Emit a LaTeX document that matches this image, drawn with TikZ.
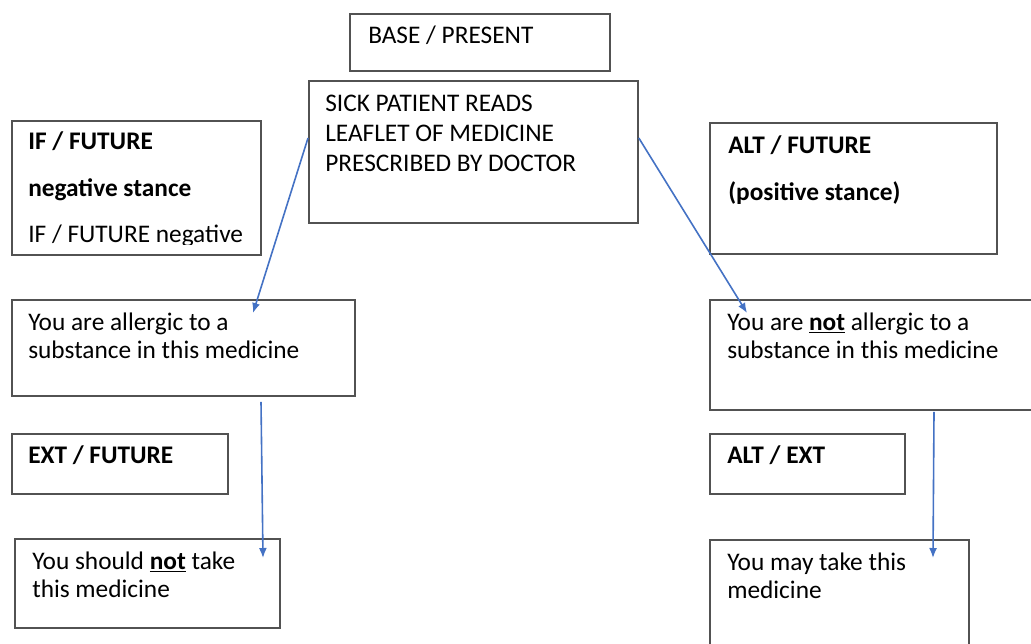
\documentclass[tikz,border=0pt]{standalone}
\usepackage{fontspec}
\setmainfont{Carlito}
\usetikzlibrary{calc}
\usetikzlibrary{arrows.meta}

\begin{document}
\begin{tikzpicture}[x=0.75pt,y=-0.75pt]
  \fontsize{19}{22.5}\selectfont
  \definecolor{lineblue}{HTML}{4472C4}
  \tikzset{
    box/.style={draw=black!68, line width=1.35pt, anchor=north west, inner sep=0pt},
    txt/.style={anchor=base west, align=left, inner sep=0pt},
    tight/.style={font=\fontsize{19}{21}\selectfont},
    arr/.style={draw=lineblue, line width=1.2pt, -{Latex[length=7.5pt,width=6pt]}}
  }
  \newcommand\drawbox[5]{\node[box, minimum width=#4*0.75pt, minimum height=#5*0.75pt] (#1) at (#2,#3) {};}
  \useasboundingbox (0,0) rectangle (1031,643);
  \clip (0,0) rectangle (1031,643);

% base part (multi-line texts sit on their last baseline)
  \drawbox{base}{349}{13}{260}{57}
  \node[txt] (basetext) at ([shift={(19,30)}]base.north west) {BASE / PRESENT};
  \drawbox{sick}{308}{80}{329}{142}
  \node[txt] (sicktext) at ([shift={(17,91)}]sick.north west) {SICK PATIENT READS\\LEAFLET OF MEDICINE\\PRESCRIBED BY DOCTOR};

% if / future part
  \drawbox{ifbox}{11}{120}{249}{134}
  \node[txt] (iftitle) at ([shift={(17,29)}]ifbox.north west) {\textbf{IF / FUTURE}};
  \node[txt] (ifstance) at ([shift={(17,76)}]ifbox.north west) {\textbf{negative stance}};
  \begin{scope}
    \clip (11,120) rectangle (260,244);
    \node[txt] (ifnote) at ([shift={(17,122)}]ifbox.north west) {IF / FUTURE negative};
  \end{scope}
  \drawbox{allergic}{11}{299}{343}{96}
  \node[txt, tight] (allergictext) at ([shift={(17,59)}]allergic.north west) {You are allergic to a\\substance in this medicine};
  \drawbox{extbox}{11}{433}{216}{60}
  \node[txt] (exttext) at ([shift={(17,30)}]extbox.north west) {\textbf{EXT / FUTURE}};
  \drawbox{shouldnot}{14}{538}{265}{89}
  \node[txt, tight] (shouldnottext) at ([shift={(18,59)}]shouldnot.north west) {You should \underline{\textbf{not}} take\\this medicine};

% alt / future part
  \drawbox{altbox}{709}{122}{287}{131}
  \node[txt] (alttitle) at ([shift={(19,31)}]altbox.north west) {\textbf{ALT / FUTURE}};
  \node[txt] (altstance) at ([shift={(19,78)}]altbox.north west) {\textbf{(positive stance)}};
  \drawbox{notallergic}{709}{299}{340}{110}
  \node[txt, tight] (notallergictext) at ([shift={(18,59)}]notallergic.north west) {You are \underline{\textbf{not}} allergic to a\\substance in this medicine};
  \drawbox{altext}{709}{433}{195}{60}
  \node[txt] (altexttext) at ([shift={(18,30)}]altext.north west) {\textbf{ALT / EXT}};
  \drawbox{may}{709}{539}{259}{120}
  \node[txt, tight] (maytext) at ([shift={(18,59)}]may.north west) {You may take this\\medicine};

% arrows
  \coordinate (tipleft) at ([shift={(242,14)}]allergic.north west);
  \coordinate (tipright) at ([shift={(38,14)}]notallergic.north west);
  \coordinate (tipshould) at ([shift={(249,20)}]shouldnot.north west);
  \coordinate (tipmay) at ([shift={(224,19)}]may.north west);
  \draw[arr] ($(sick.north west)+(0,58)$) -- (tipleft);
  \draw[arr] ($(sick.north east)+(0,58)$) -- (tipright);
  \draw[arr] ([shift={(250,5)}]allergic.south west) -- (tipshould);
  \draw[arr] ([shift={(225,1)}]notallergic.south west) -- (tipmay);

\end{tikzpicture}
\end{document}
